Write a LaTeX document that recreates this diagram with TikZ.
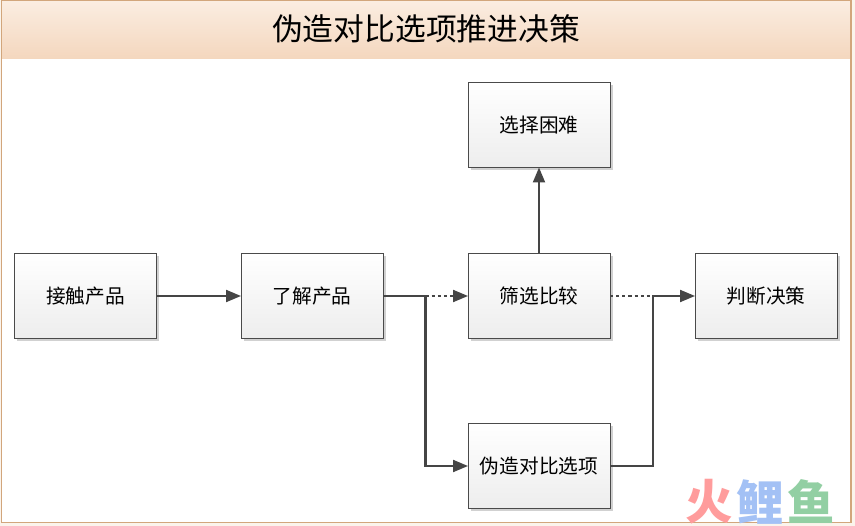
\documentclass[tikz,border=0pt]{standalone}
\usepackage{fontspec}
\setmainfont{Noto Sans CJK SC}
\usetikzlibrary{positioning,
	calc,
	shadows,
	arrows.meta}
\definecolor{frameline}{HTML}{D2A67C}
\definecolor{outerpale}{HTML}{FBF4EC}
\definecolor{headtop}{HTML}{FBEDE1}
\definecolor{headbottom}{HTML}{F4D7BE}
\definecolor{boxline}{HTML}{4A4A4A}
\definecolor{flowline}{HTML}{454545}
\definecolor{markred}{HTML}{FF9C9C}
\definecolor{markblue}{HTML}{A3C1F5}
\definecolor{markgreen}{HTML}{92CFA3}
\tikzset{
    stagebox/.style={
            draw=boxline,
            line width=0.55pt,
            outer sep=0pt,
            top color=white,
            bottom color=black!7,
            minimum width=2.84cm,
            minimum height=1.7cm,
            font=\fontsize{11.2pt}{14pt}\selectfont,
            drop shadow={shadow xshift=0.05cm, shadow yshift=-0.05cm, opacity=0.18, fill=black}
        },
    flow/.style={
            draw=flowline,
            line width=1.15pt,
            -{Triangle[length=0.3cm, width=0.24cm]}
        },
    dottedlink/.style={
            draw=flowline,
            line width=1.15pt,
            dash pattern=on 1.8pt off 1.7pt
        },
    markchar/.style={
            font=\fontsize{27pt}{27pt}\selectfont\bfseries,
            inner sep=0pt
        }
}
\begin{document}
\begin{tikzpicture}
            \useasboundingbox (0, 0) rectangle (17.1, -10.52);
            \fill[outerpale] (0, 0) rectangle (17.1, -10.52);
            \fill[white] (0.03, -0.01) rectangle (17.02, -10.45);
            % header band
            \shade[top color=headtop, bottom color=headbottom] (0.03, -0.02) rectangle (17.02, -1.17);
            \draw[frameline, line width=0.8pt] (0.03, -0.01) rectangle (17.02, -10.45);
            \node (title) at (8.52, -0.58) {\fontsize{17.5pt}{20pt}\selectfont 伪造对比选项推进决策};
            % stages
            \node[stagebox] (contact) at (1.71, -5.92) {接触产品};
            \node[stagebox, right=1.69cm of contact] (learn) {了解产品};
            \node[stagebox, right=1.70cm of learn] (compare) {筛选比较};
            \node[stagebox, right=1.70cm of compare] (decide) {判断决策};
            \node[stagebox, above=1.72cm of compare] (hard) {选择困难};
            \node[stagebox, below=1.70cm of compare] (decoy) {伪造对比选项};
            \coordinate (forkleft) at ($(learn.east)!0.5!(compare.west)$);
            \coordinate (forkright) at ($(compare.east)!0.5!(decide.west)$);
            % connectors
            \draw[flow] (contact) -- (learn);
            \draw[flow] (compare) -- (hard);
            \draw[flow, dash pattern=on 1.8pt off 1.7pt] (forkleft) -- (compare);
            \draw[flow] (learn) -- (forkleft) |- (decoy);
            \draw[dottedlink] (compare) -- (forkright);
            \draw[flow] (decoy) -| (forkright) -- (decide);
            % corner mark
            \node[markchar, text=markred] (markfire) at (14.18, -10.04) {火};
            \node[markchar, text=markblue, right=0.06cm of markfire] (markcarp) {鲤};
            \node[markchar, text=markgreen, right=0.06cm of markcarp] (markfish) {鱼};
        \end{tikzpicture}
\end{document}
